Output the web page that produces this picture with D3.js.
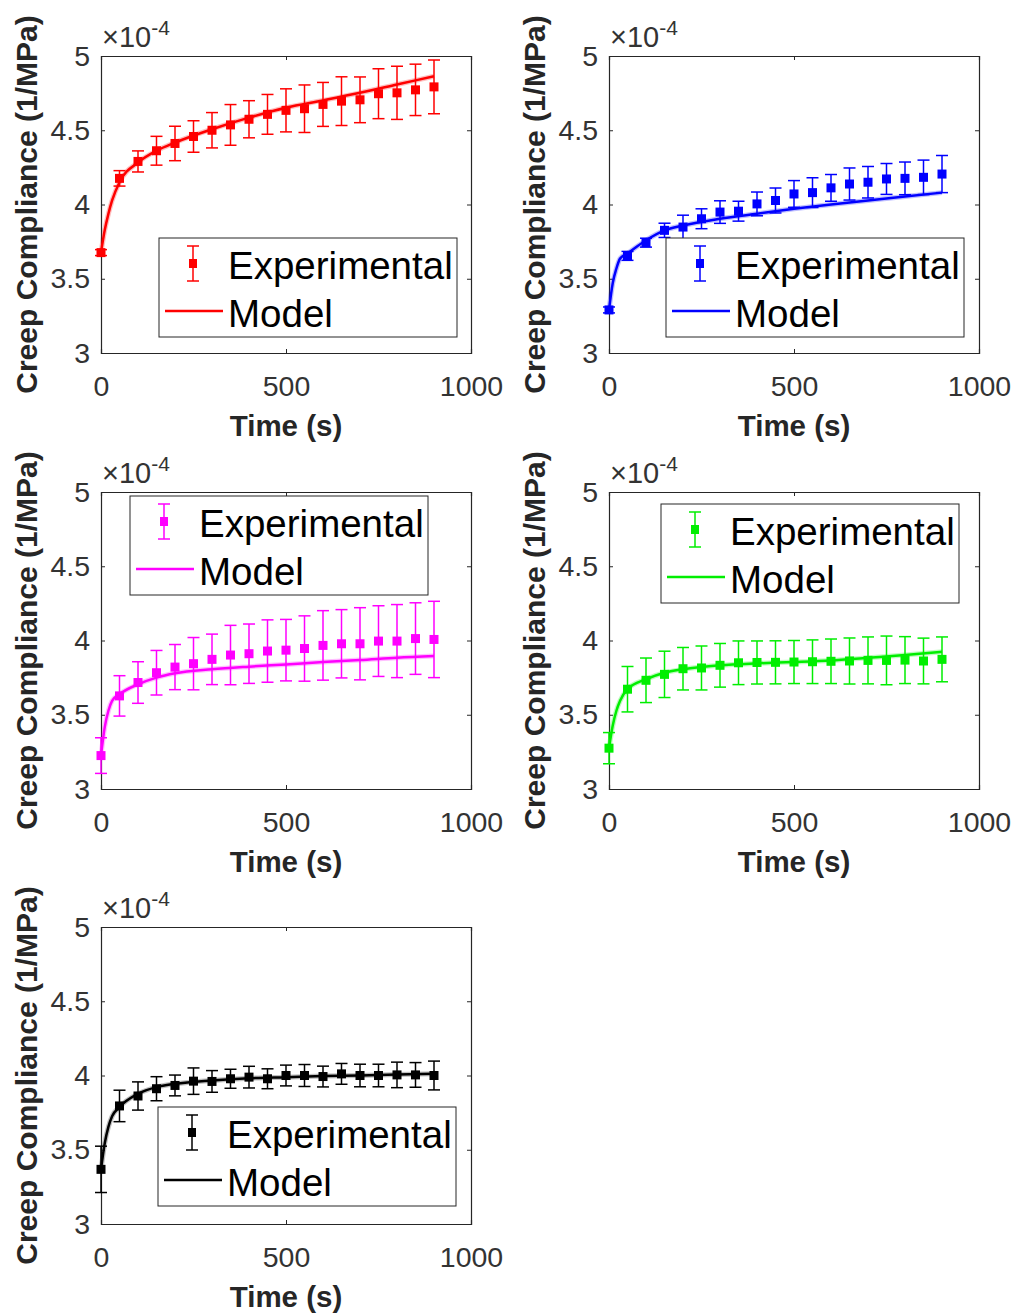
<!DOCTYPE html>
<html>
<head>
<meta charset="utf-8">
<script src="https://cdn.jsdelivr.net/npm/d3@7"></script>
<style>
body { margin: 0; background: #fff; }
svg { display: block; font-family: "Liberation Sans", Arial, sans-serif; }
</style>
</head>
<body>
<div id="main"></div>
<script>
// time axis (s)
const timeExp = [0,50,100,150,200,250,300,350,400,450,500,550,600,650,700,750,800,850,900]
const timeModel = [0,10,20,30,50,100,150,200,300,400,500,600,700,800,900]
const yTicks = [3,3.5,4,4.5,5]
const xTicks = [0,500,1000]

// creep compliance (x1e-4 1/MPa)
const redExp = [3.676,4.176,4.290,4.362,4.411,4.458,4.500,4.536,4.574,4.607,4.634,4.645,4.674,4.696,4.705,4.746,4.752,4.772,4.792]
const redErr = [0.02,0.052,0.071,0.097,0.116,0.106,0.119,0.137,0.125,0.134,0.145,0.16,0.148,0.164,0.154,0.168,0.179,0.173,0.181]
const redModel = [3.676,3.826,3.937,4.027,4.150,4.283,4.362,4.417,4.507,4.585,4.652,4.701,4.752,4.808,4.864]

const blueExp = [3.290,3.654,3.743,3.826,3.848,3.904,3.949,3.955,4.004,4.027,4.071,4.080,4.112,4.138,4.150,4.172,4.176,4.183,4.205]
const blueErr = [0.02,0.03,0.03,0.048,0.08,0.067,0.076,0.067,0.08,0.084,0.09,0.1,0.09,0.108,0.106,0.104,0.11,0.116,0.125]
const blueModel = [3.290,3.469,3.569,3.636,3.670,3.759,3.826,3.859,3.904,3.938,3.971,4.000,4.027,4.054,4.080]

const magentaExp = [3.225,3.627,3.717,3.783,3.821,3.844,3.873,3.902,3.911,3.929,3.935,3.946,3.967,3.978,3.978,3.996,3.996,4.013,4.007]
const magentaErr = [0.12,0.136,0.14,0.15,0.152,0.176,0.17,0.2,0.2,0.21,0.207,0.22,0.234,0.23,0.243,0.238,0.246,0.241,0.257]
const magentaModel = [3.225,3.415,3.527,3.594,3.638,3.705,3.750,3.779,3.806,3.824,3.839,3.855,3.868,3.884,3.895]

const greenExp = [3.275,3.672,3.732,3.772,3.810,3.815,3.833,3.850,3.852,3.853,3.855,3.857,3.860,3.862,3.866,3.866,3.868,3.862,3.873]
const greenErr = [0.105,0.153,0.15,0.156,0.143,0.148,0.147,0.147,0.145,0.145,0.145,0.147,0.15,0.155,0.158,0.164,0.158,0.154,0.151]
const greenModel = [3.275,3.426,3.527,3.594,3.672,3.739,3.783,3.806,3.833,3.846,3.855,3.866,3.884,3.902,3.924]

const blackExp = [3.368,3.795,3.862,3.911,3.933,3.962,3.960,3.978,3.989,3.978,4.000,4.000,3.993,4.011,4.000,4.000,4.004,4.004,4.000]
const blackErr = [0.156,0.106,0.095,0.081,0.07,0.089,0.073,0.064,0.073,0.067,0.07,0.074,0.07,0.07,0.076,0.076,0.086,0.083,0.097]
const blackModel = [3.368,3.542,3.654,3.725,3.788,3.877,3.922,3.944,3.967,3.982,3.989,3.996,4.000,4.007,4.011]

const panels = [
    {left:101, top:56,  color:"#ff0000", exp:redExp,     err:redErr,     model:redModel,     leg:[58,182]},
    {left:609, top:56,  color:"#0000ff", exp:blueExp,    err:blueErr,    model:blueModel,    leg:[57,182]},
    {left:101, top:492, color:"#ff00ff", exp:magentaExp, err:magentaErr, model:magentaModel, leg:[29,4]},
    {left:609, top:492, color:"#00ee00", exp:greenExp,   err:greenErr,   model:greenModel,   leg:[52,12]},
    {left:101, top:927, color:"#000000", exp:blackExp,   err:blackErr,   model:blackModel,   leg:[57,180]}
]

const W = 370, H = 297
const axisCol = "#262626"

let svg = d3.select("#main").append("svg").attr("width",1021).attr("height",1315)

panels.forEach(p => drawPanel(p))

function drawPanel(p)
{
    let g = svg.append("g").attr("transform","translate("+p.left+","+p.top+")")
    let x = d3.scaleLinear().domain([0,1000]).range([0,W])
    let y = d3.scaleLinear().domain([3,5]).range([H,0])

    // axes (ticks inward, box on)
    g.append("g").attr("transform","translate(0,"+H+")")
    .call(d3.axisBottom(x).tickValues(xTicks).tickSize(-4).tickPadding(23).tickFormat(d3.format("d")))
    g.append("g")
    .call(d3.axisTop(x).tickValues(xTicks).tickSize(-4).tickFormat(""))
    g.append("g")
    .call(d3.axisLeft(y).tickValues(yTicks).tickSize(-4).tickPadding(11).tickFormat(d => d))
    g.append("g").attr("transform","translate("+W+",0)")
    .call(d3.axisRight(y).tickValues(yTicks).tickSize(-4).tickFormat(""))

    g.selectAll(".domain").attr("stroke",axisCol).attr("stroke-width",1.2)
    g.selectAll(".tick line").attr("stroke",axisCol)
    g.selectAll(".tick text").attr("fill","#333").style("font-size","28.5px").style("font-family","'Liberation Sans', Arial, sans-serif")

    // exponent label
    let ex = g.append("text").attr("x",1).attr("y",-9).attr("fill","#333")
    .style("font-size","29px")
    ex.append("tspan").text("\u00d710")
    ex.append("tspan").text("-4").attr("dy",-12).style("font-size","21px")

    // axis titles
    g.append("text").text("Time (s)")
    .attr("x",W/2).attr("y",H+83).attr("text-anchor","middle")
    .style("font-size","29.5px").style("font-weight","bold").attr("fill",axisCol)
    g.append("text").text("Creep Compliance (1/MPa)")
    .attr("transform","translate(-64,"+(H/2)+") rotate(-90)")
    .attr("text-anchor","middle")
    .style("font-size","30px").style("font-weight","bold").attr("fill",axisCol)

    // model curve
    let line = d3.line()
    .x((d,i) => x(timeModel[i]))
    .y(d => y(d))
    .curve(d3.curveMonotoneX)
    g.append("path").datum(p.model)
    .attr("fill","none").attr("stroke",p.color).attr("stroke-opacity",0.25).attr("stroke-width",5)
    .attr("d",line)
    g.append("path").datum(p.model)
    .attr("fill","none").attr("stroke",p.color).attr("stroke-width",2.5)
    .attr("d",line)

    // error bars + markers
    let pts = g.selectAll(".pt").data(p.exp).enter().append("g")
    .attr("transform",(d,i) => "translate("+x(timeExp[i])+",0)")
    pts.append("line")
    .attr("y1",(d,i) => y(d-p.err[i])).attr("y2",(d,i) => y(d+p.err[i]))
    .attr("stroke",p.color).attr("stroke-width",1.5)
    pts.append("line").attr("x1",-6).attr("x2",6)
    .attr("y1",(d,i) => y(d-p.err[i])).attr("y2",(d,i) => y(d-p.err[i]))
    .attr("stroke",p.color).attr("stroke-width",1.5)
    pts.append("line").attr("x1",-6).attr("x2",6)
    .attr("y1",(d,i) => y(d+p.err[i])).attr("y2",(d,i) => y(d+p.err[i]))
    .attr("stroke",p.color).attr("stroke-width",1.5)
    pts.append("rect").attr("x",-4.5).attr("width",9).attr("height",9)
    .attr("y",d => y(d)-4.5).attr("fill",p.color)

    // legend
    let lg = g.append("g").attr("transform","translate("+p.leg[0]+","+p.leg[1]+")")
    lg.append("rect").attr("width",298).attr("height",99)
    .attr("fill","#fff").attr("stroke",axisCol).attr("stroke-width",1)
    lg.append("line").attr("x1",34).attr("x2",34).attr("y1",8).attr("y2",43)
    .attr("stroke",p.color).attr("stroke-width",1.5)
    lg.append("line").attr("x1",28).attr("x2",40).attr("y1",8).attr("y2",8)
    .attr("stroke",p.color).attr("stroke-width",1.5)
    lg.append("line").attr("x1",28).attr("x2",40).attr("y1",43).attr("y2",43)
    .attr("stroke",p.color).attr("stroke-width",1.5)
    lg.append("rect").attr("x",30).attr("y",21).attr("width",8).attr("height",9).attr("fill",p.color)
    lg.append("line").attr("x1",6).attr("x2",64).attr("y1",73).attr("y2",73)
    .attr("stroke",p.color).attr("stroke-width",2.5)
    lg.append("text").text("Experimental").attr("x",69).attr("y",41)
    .style("font-size","38.5px").attr("fill","#000")
    lg.append("text").text("Model").attr("x",69).attr("y",89)
    .style("font-size","38.5px").attr("fill","#000")
}
</script>
</body>
</html>
